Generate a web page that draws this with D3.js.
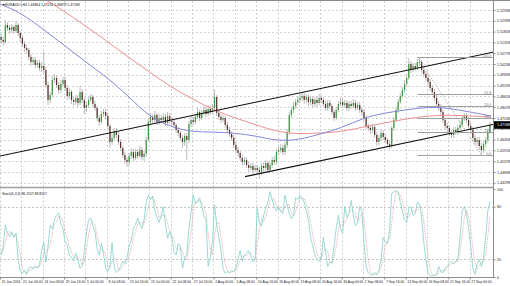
<!DOCTYPE html>
<html><head><meta charset="utf-8">
<script src="https://cdn.jsdelivr.net/npm/d3@7/dist/d3.min.js"></script>
<style>body{margin:0;background:#fff}svg{display:block}text{font-family:"Liberation Sans",Arial,sans-serif}</style>
</head><body><svg id="c" width="510" height="286"></svg>
<script>
// ---- data (EURAUD H4, each entry = 2 H4 bars) ----
const titleText = "\u25BCEURAUD#,H4  1.46864 1.47224 1.46879 1.47188";
const stochTitle = "Stoch(5,3,3) 86.1557 88.8517";
const firstOpen = 1.5159;
const closes = [
1.5144,1.5134,1.5219,1.5204,1.5194,1.5209,1.5189,1.5219,1.5179,1.5154,
1.5124,1.5104,1.5094,1.5059,1.5034,1.5044,1.5019,1.5029,1.5004,1.5014,
1.4994,1.4919,1.4844,1.4869,1.4944,1.4954,1.4919,1.4894,1.4924,1.4944,
1.4904,1.4864,1.4884,1.4844,1.4834,1.4854,1.4829,1.4884,1.4844,1.4804,
1.4819,1.4844,1.4859,1.4824,1.4804,1.4754,1.4734,1.4774,1.4784,1.4764,
1.4714,1.4634,1.4654,1.4689,1.4669,1.4634,1.4604,1.4569,1.4544,1.4534,
1.4564,1.4584,1.4554,1.4584,1.4564,1.4594,1.4559,1.4574,1.4644,1.4734,
1.4759,1.4744,1.4769,1.4734,1.4754,1.4744,1.4759,1.4729,1.4764,1.4739,
1.4734,1.4719,1.4694,1.4679,1.4654,1.4634,1.4664,1.4644,1.4724,1.4744,
1.4734,1.4759,1.4784,1.4754,1.4779,1.4794,1.4774,1.4799,1.4784,1.4804,
1.4859,1.4779,1.4759,1.4744,1.4754,1.4719,1.4694,1.4674,1.4654,1.4619,
1.4594,1.4579,1.4554,1.4534,1.4544,1.4519,1.4504,1.4514,1.4494,1.4504,
1.4494,1.4484,1.4514,1.4504,1.4529,1.4494,1.4519,1.4544,1.4534,1.4584,
1.4594,1.4604,1.4584,1.4619,1.4684,1.4769,1.4794,1.4814,1.4834,1.4844,
1.4854,1.4864,1.4844,1.4859,1.4834,1.4849,1.4824,1.4844,1.4829,1.4854,
1.4844,1.4824,1.4804,1.4829,1.4814,1.4784,1.4754,1.4794,1.4824,1.4834,
1.4819,1.4829,1.4804,1.4824,1.4814,1.4829,1.4804,1.4819,1.4794,1.4784,
1.4754,1.4714,1.4704,1.4694,1.4709,1.4669,1.4634,1.4654,1.4679,1.4659,
1.4644,1.4624,1.4614,1.4704,1.4744,1.4794,1.4834,1.4864,1.4894,1.4924,
1.4954,1.5024,1.4994,1.5014,1.5004,1.5034,1.5034,1.4994,1.4974,1.4954,
1.4934,1.4904,1.4884,1.4854,1.4824,1.4804,1.4784,1.4744,1.4714,1.4704,
1.4679,1.4669,1.4694,1.4684,1.4704,1.4719,1.4754,1.4764,1.4744,1.4714,
1.4694,1.4654,1.4634,1.4644,1.4614,1.4594,1.4624,1.4644,1.4684,1.4719];
const highs = [
1.5174,1.5159,1.5244,1.5234,1.5219,1.5224,1.5219,1.5239,1.5229,1.5189,
1.5169,1.5139,1.5119,1.5104,1.5074,1.5059,1.5059,1.5044,1.5044,1.5034,
1.5084,1.5009,1.4934,1.4884,1.4964,1.4974,1.4969,1.4934,1.4944,1.4959,
1.4959,1.4919,1.4904,1.4894,1.4859,1.4869,1.4869,1.4914,1.4899,1.4854,
1.4834,1.4859,1.4874,1.4869,1.4839,1.4814,1.4769,1.4789,1.4799,1.4799,
1.4779,1.4724,1.4674,1.4704,1.4704,1.4684,1.4649,1.4614,1.4584,1.4559,
1.4579,1.4604,1.4599,1.4599,1.4599,1.4614,1.4609,1.4589,1.4659,1.4754,
1.4779,1.4774,1.4789,1.4779,1.4774,1.4769,1.4779,1.4774,1.4784,1.4779,
1.4754,1.4749,1.4729,1.4709,1.4689,1.4669,1.4679,1.4679,1.4739,1.4764,
1.4759,1.4774,1.4804,1.4794,1.4794,1.4814,1.4809,1.4819,1.4814,1.4824,
1.4894,1.4869,1.4794,1.4774,1.4769,1.4764,1.4734,1.4709,1.4689,1.4669,
1.4634,1.4609,1.4589,1.4569,1.4559,1.4559,1.4534,1.4529,1.4529,1.4519,
1.4519,1.4509,1.4529,1.4534,1.4544,1.4539,1.4534,1.4559,1.4564,1.4599,
1.4614,1.4624,1.4619,1.4634,1.4699,1.4784,1.4809,1.4834,1.4849,1.4864,
1.4874,1.4884,1.4879,1.4874,1.4869,1.4864,1.4864,1.4859,1.4859,1.4874,
1.4869,1.4859,1.4839,1.4844,1.4844,1.4824,1.4799,1.4809,1.4839,1.4854,
1.4849,1.4844,1.4844,1.4839,1.4839,1.4849,1.4844,1.4834,1.4834,1.4809,
1.4799,1.4769,1.4729,1.4719,1.4724,1.4719,1.4684,1.4669,1.4694,1.4694,
1.4674,1.4654,1.4639,1.4714,1.4759,1.4809,1.4849,1.4879,1.4909,1.4944,
1.4974,1.5054,1.5039,1.5029,1.5029,1.5049,1.5059,1.5044,1.5009,1.4989,
1.4969,1.4949,1.4919,1.4899,1.4869,1.4839,1.4824,1.4794,1.4759,1.4729,
1.4714,1.4694,1.4709,1.4709,1.4719,1.4739,1.4769,1.4779,1.4779,1.4759,
1.4729,1.4709,1.4669,1.4659,1.4659,1.4629,1.4639,1.4659,1.4699,1.4734];
const lows = [
1.5124,1.5114,1.5124,1.5189,1.5174,1.5179,1.5174,1.5179,1.5164,1.5134,
1.5109,1.5084,1.5074,1.5044,1.5014,1.5019,1.5004,1.5004,1.4989,1.4984,
1.4974,1.4904,1.4819,1.4829,1.4859,1.4929,1.4904,1.4874,1.4879,1.4909,
1.4889,1.4844,1.4849,1.4824,1.4814,1.4819,1.4809,1.4819,1.4829,1.4774,
1.4784,1.4804,1.4834,1.4809,1.4789,1.4739,1.4714,1.4724,1.4759,1.4749,
1.4699,1.4604,1.4619,1.4639,1.4654,1.4619,1.4589,1.4554,1.4524,1.4509,
1.4519,1.4549,1.4539,1.4544,1.4549,1.4554,1.4544,1.4539,1.4559,1.4634,
1.4719,1.4724,1.4729,1.4719,1.4719,1.4729,1.4729,1.4714,1.4719,1.4724,
1.4719,1.4704,1.4679,1.4664,1.4639,1.4604,1.4614,1.4544,1.4629,1.4709,
1.4719,1.4724,1.4749,1.4739,1.4744,1.4769,1.4759,1.4764,1.4769,1.4774,
1.4794,1.4764,1.4744,1.4729,1.4734,1.4704,1.4679,1.4659,1.4639,1.4604,
1.4579,1.4559,1.4539,1.4514,1.4519,1.4504,1.4484,1.4494,1.4474,1.4484,
1.4474,1.4449,1.4469,1.4484,1.4489,1.4479,1.4484,1.4504,1.4519,1.4519,
1.4569,1.4579,1.4569,1.4569,1.4604,1.4669,1.4754,1.4779,1.4799,1.4819,
1.4829,1.4839,1.4824,1.4829,1.4814,1.4819,1.4804,1.4809,1.4809,1.4819,
1.4829,1.4809,1.4789,1.4789,1.4799,1.4769,1.4739,1.4744,1.4784,1.4814,
1.4804,1.4809,1.4789,1.4789,1.4799,1.4804,1.4789,1.4794,1.4779,1.4764,
1.4739,1.4699,1.4689,1.4674,1.4679,1.4654,1.4614,1.4619,1.4639,1.4644,
1.4629,1.4609,1.4599,1.4604,1.4689,1.4734,1.4779,1.4824,1.4854,1.4879,
1.4909,1.4944,1.4979,1.4984,1.4989,1.4994,1.5014,1.4979,1.4959,1.4939,
1.4919,1.4889,1.4869,1.4839,1.4809,1.4789,1.4769,1.4729,1.4699,1.4684,
1.4664,1.4654,1.4654,1.4669,1.4669,1.4694,1.4709,1.4739,1.4729,1.4699,
1.4679,1.4639,1.4619,1.4614,1.4594,1.4569,1.4579,1.4609,1.4629,1.4674];
// moving averages sampled every 10 entries (bar index 10k-0.5)
const maBlue = [1.5324,1.5279,1.5199,1.5119,1.5034,1.4959,1.4864,1.4759,1.4709,1.4684,1.4684,1.4679,
                1.4664,1.4639,1.4644,1.4674,1.4704,1.4754,1.4779,1.4794,1.4809,1.4804,1.4784,1.4764];
const maRed  = [1.5484,1.5419,1.5354,1.5289,1.5214,1.5139,1.5059,1.4984,1.4909,1.4849,1.4794,1.4754,
                1.4719,1.4684,1.4674,1.4679,1.4684,1.4709,1.4729,1.4749,1.4764,1.4769,1.4764,1.4759];
const stochMain = [
25,35,59,50,46,51,45,50,20,6, 4,8,3,10,12,9,13,10,14,30, 40,17,35,59,55,65,70,73,60,55,
40,36,25,22,18,27,20,10,12,30, 50,65,67,58,52,32,25,38,26,10, 6,13,39,12,5,8,12,18,15,22,
35,42,55,60,67,60,55,65,85,93, 88,92,75,68,62,70,80,60,44,52, 45,28,25,38,35,10,22,25,55,74,
93,84,85,90,80,70,65,12,22,40, 82,60,45,30,10,4,6,5,7,6, 10,20,30,18,25,28,30,24,17,20,
78,62,58,70,78,85,97,88,80,75, 80,74,72,93,82,72,66,70,90,88, 93,90,85,75,65,45,35,25,20,18,
22,45,28,12,17,16,35,55,70,55, 50,80,68,72,87,70,58,62,80,75, 40,12,5,3,2,5,3,8,20,45,
40,38,52,95,97,98,96,85,75,65, 62,78,80,70,72,85,83,68,40,20, 5,2,1,2,3,12,6,5,10,12,
16,18,15,18,20,45,75,80,72,55, 35,10,3,15,20,12,22,45,75,86.2];
const stochSignal = [
28,30,40,48,52,49,47,48,38,25, 10,6,5,7,8,10,11,11,12,18, 28,29,31,37,50,60,63,69,68,63,
52,44,34,28,22,22,22,19,14,17, 31,48,61,63,59,47,36,32,30,25, 14,10,19,21,19,8,8,13,15,18,
24,33,44,52,61,62,61,60,68,81, 89,91,85,78,68,67,71,70,61,52, 47,42,33,30,33,28,22,19,34,51,
74,84,87,86,85,80,72,49,33,25, 48,61,62,45,28,15,7,5,6,6, 8,12,20,23,24,24,28,27,24,20,
38,53,66,63,69,78,87,90,88,81, 78,76,75,80,82,82,73,69,75,83, 90,90,89,83,75,62,48,35,27,21,
20,28,32,28,19,15,23,35,53,60, 58,62,66,73,76,76,72,63,67,72, 65,42,19,7,3,3,3,5,10,24,
35,41,43,62,81,97,97,93,85,75, 67,68,73,76,74,76,80,79,64,43, 22,9,3,2,2,6,7,8,7,9,
13,15,16,17,18,28,47,67,76,69, 54,33,16,9,13,16,18,26,47,69];
const priceTicks = [1.52938,1.52398,1.51858,1.51318,1.50778,1.50238,1.49698,1.49158,1.48618,
                    1.48078,1.47538,1.46998,1.46458,1.45918,1.45378,1.44838,1.44298];
const dateLabels = ["15 Jun 2016","21 Jun 00:00","24 Jun 08:00","29 Jun 16:00","5 Jul 00:00","8 Jul 08:00",
  "13 Jul 16:00","19 Jul 00:00","22 Jul 08:00","27 Jul 16:00","2 Aug 00:00","5 Aug 08:00","10 Aug 16:00",
  "16 Aug 00:00","19 Aug 08:00","24 Aug 16:00","30 Aug 00:00","2 Sep 08:00","7 Sep 16:00","13 Sep 00:00",
  "16 Sep 08:00","21 Sep 16:00","27 Sep 00:00"];
const stochTicks = [100, 80, 20, 0];
const stochLevels = [80, 20];
const fiboLevels = [100, 61.8, 50, 38.2, 23.6, 0];
const fiboHigh = {bar: 196, price: 1.5059};
const fiboLow = {bar: 225, price: 1.4569};
const upperChannel = [[-0.5, 1.4564], [230.9, 1.5084]];
const lowerChannel = [[114.3, 1.44605], [230.9, 1.47225]];
const lastPrice = 1.47188;

// ---- layout ----
const W = 510, axisX = 493.5, mainBot = 187, subTop = 188.5, subBot = 277;
const svg = d3.select("#c");
const x = d3.scaleLinear().domain([-0.5, 229.5]).range([0, 491]);
const yP = d3.scaleLinear().domain([1.44298, 1.52938]).range([182.8, 10]);
const yS = d3.scaleLinear().domain([0, 100]).range([subBot, 189]);

const defs = svg.append("defs");
defs.append("clipPath").attr("id","cm").append("rect").attr("x",0).attr("y",1).attr("width",axisX).attr("height",mainBot-1);
defs.append("clipPath").attr("id","cs").append("rect").attr("x",0).attr("y",subTop).attr("width",axisX).attr("height",subBot-subTop);

const gridCol = "#d2d2d2";
const grid = svg.append("g").attr("stroke", gridCol).attr("stroke-width", 1).attr("stroke-dasharray", "2,2");
priceTicks.forEach(p => {
  const yy = Math.round(yP(p)) + 0.5;
  grid.append("line").attr("x1",0).attr("x2",axisX).attr("y1",yy).attr("y2",yy);
});
const dateBars = dateLabels.map((d,k) => k*10 - 0.5);
dateBars.forEach(b => {
  const xx = Math.round(x(b)) + 0.5;
  grid.append("line").attr("x1",xx).attr("x2",xx).attr("y1",1).attr("y2",mainBot);
  grid.append("line").attr("x1",xx).attr("x2",xx).attr("y1",subTop).attr("y2",subBot);
});
stochLevels.forEach(v => {
  const yy = Math.round(yS(v)) + 0.5;
  grid.append("line").attr("x1",0).attr("x2",axisX).attr("y1",yy).attr("y2",yy).attr("stroke","#c4c4c4");
});

// candles
const main = svg.append("g").attr("clip-path","url(#cm)");
const bars = closes.map((c,i) => ({i, o: i ? closes[i-1] : firstOpen, c, h: highs[i], l: lows[i]}));
main.append("g").selectAll("line").data(bars).join("line")
  .attr("x1", d => x(d.i)).attr("x2", d => x(d.i))
  .attr("y1", d => yP(d.h)).attr("y2", d => yP(d.l))
  .attr("stroke", "#b4b4b4").attr("stroke-width", 0.9);
main.append("g").selectAll("rect").data(bars).join("rect")
  .attr("x", d => x(d.i) - 0.6).attr("width", 1.2)
  .attr("y", d => yP(Math.max(d.o, d.c)))
  .attr("height", d => Math.max(0.8, Math.abs(yP(d.o) - yP(d.c))))
  .attr("fill", d => d.c >= d.o ? "#3a9a3a" : "#5a2c2c");

// moving averages
const maBars = maBlue.map((v,k) => k*10 - 0.5);
const maLine = d3.line().x((d,k) => x(maBars[k])).y(d => yP(d)).curve(d3.curveBasis);
main.append("path").attr("d", maLine(maRed)).attr("fill","none").attr("stroke","#ec9090").attr("stroke-width",1);
main.append("path").attr("d", maLine(maBlue)).attr("fill","none").attr("stroke","#8686da").attr("stroke-width",1);

// channel lines
const tl = d3.line().x(d => x(d[0])).y(d => yP(d[1]));
[upperChannel, lowerChannel].forEach(c =>
  main.append("path").attr("d", tl(c)).attr("stroke","#111").attr("stroke-width",1.1).attr("fill","none"));

// fibonacci
const fg = svg.append("g");
fiboLevels.forEach(lv => {
  const p = fiboLow.price + (fiboHigh.price - fiboLow.price) * lv / 100;
  const yy = Math.round(yP(p)) + 0.5;
  fg.append("line").attr("x1", x(fiboHigh.bar) - 2).attr("x2", axisX).attr("y1", yy).attr("y2", yy)
    .attr("stroke", "#a0a0a0").attr("stroke-width", 1);
  fg.append("text").attr("x", 491).attr("y", yy - 1).attr("text-anchor","end")
    .attr("font-size", 3.3).attr("fill","#777").text(lv.toFixed(1));
});
fg.append("line").attr("x1", x(fiboHigh.bar) - 2).attr("y1", yP(fiboHigh.price))
  .attr("x2", x(fiboLow.bar)).attr("y2", yP(fiboLow.price))
  .attr("stroke","#8a8a8a").attr("stroke-width",0.8).attr("stroke-dasharray","1,1.5");

// stochastic
const sub = svg.append("g").attr("clip-path","url(#cs)");
const sl = d3.line().x((d,i) => x(i)).y(d => yS(d));
sub.append("path").attr("d", sl(stochSignal)).attr("fill","none").attr("stroke","#d99a9a").attr("stroke-width",0.8).attr("stroke-dasharray","1,1");
sub.append("path").attr("d", sl(stochMain)).attr("fill","none").attr("stroke","#82d2c9").attr("stroke-width",0.8);

// frame
const fr = svg.append("g").attr("stroke","#8c8c8c").attr("stroke-width",1);
fr.append("line").attr("x1",0).attr("x2",W).attr("y1",0.5).attr("y2",0.5);
fr.append("line").attr("x1",0).attr("x2",axisX).attr("y1",187.5).attr("y2",187.5).attr("stroke","#a0a0a0").attr("stroke-width",1.4);
fr.append("line").attr("x1",0).attr("x2",axisX).attr("y1",subBot+0.5).attr("y2",subBot+0.5);
fr.append("line").attr("x1",axisX).attr("x2",axisX).attr("y1",0).attr("y2",subBot+1);

// axes
const pa = svg.append("g").attr("transform",`translate(${axisX},0)`)
  .call(d3.axisRight(yP).tickValues(priceTicks).tickSize(2).tickPadding(1.5).tickFormat(d3.format(".5f")));
const sa = svg.append("g").attr("transform",`translate(${axisX},0)`)
  .call(d3.axisRight(yS).tickValues(stochTicks).tickSize(2).tickPadding(1.5).tickFormat(d => d));
const da = svg.append("g").attr("transform",`translate(0,${subBot+0.5})`)
  .call(d3.axisBottom(x).tickValues(dateBars).tickSize(2).tickFormat((d,k) => dateLabels[k]));
[pa, sa, da].forEach(a => {
  a.select(".domain").remove();
  a.selectAll(".tick line").attr("stroke","#8c8c8c");
  a.selectAll("text").attr("font-size", 3.6).attr("fill","#222").attr("font-family","Liberation Sans, Arial, sans-serif");
});
da.selectAll("text").attr("text-anchor","start").attr("x",1.2).attr("y",3.2).attr("font-size",3.4);

// current price box
const ly = yP(lastPrice);
svg.append("rect").attr("x", axisX + 0.5).attr("y", ly - 3.8).attr("width", W - axisX).attr("height", 7.6).attr("fill","#000");
svg.append("text").attr("x", axisX + 3.5).attr("y", ly + 1.3).attr("font-size",3.6).attr("fill","#fff").text(lastPrice.toFixed(5));

// titles
svg.append("text").attr("x",2).attr("y",6).attr("font-size",3.4).attr("fill","#111").text(titleText);
svg.append("text").attr("x",2).attr("y",194.5).attr("font-size",3.4).attr("fill","#111").text(stochTitle);
</script></body></html>
